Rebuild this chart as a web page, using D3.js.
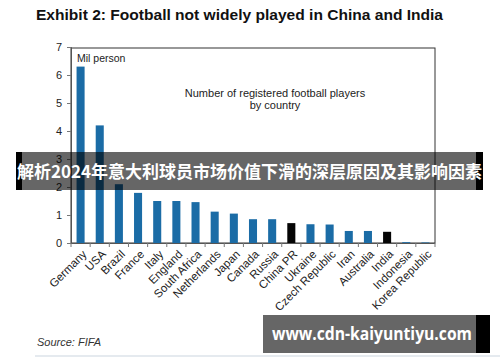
<!DOCTYPE html>
<html><head><meta charset="utf-8">
<script src="https://cdn.jsdelivr.net/npm/d3@7"></script>
<style>
html,body{margin:0;padding:0;background:#fff;}
svg{display:block;font-family:"Liberation Sans",Arial,sans-serif;}
</style></head>
<body><svg id="c" width="500" height="362"></svg>
<script>
const categories = ["Germany","USA","Brazil","France","Italy","England","South Africa","Netherlands","Japan","Canada","Russia","China PR","Ukraine","Czech Republic","Iran","Australia","India","Indonesia","Korea Republic"];
const players = [6.3,4.2,2.1,1.79,1.5,1.5,1.46,1.12,1.05,0.85,0.85,0.71,0.67,0.66,0.43,0.43,0.4,0.03,0.02];
const highlighted = ["China PR","India"];
const yTicks = [0,1,2,3,4,5,6,7];
const title = "Exhibit 2: Football not widely played in China and India";
const unitLabel = "Mil person";
const noteLines = ["Number of registered football players","by country"];
const source = "Source: FIFA";
const bannerText = "解析2024年意大利球员市场价值下滑的深层原因及其影响因素";
const urlText = "www.cdn-kaiyuntiyu.com";

const svg = d3.select("#c");
const L=71, R=435, T=47, B=243;
const x = d3.scaleBand().domain(categories).range([L,R]).paddingInner(0.58).paddingOuter(0.29);
const y = d3.scaleLinear().domain([0,7]).range([B,T]);

// title
svg.append("text").attr("x",36).attr("y",20).attr("font-size",14).attr("font-weight","bold")
  .attr("fill","#111").attr("textLength",407).attr("lengthAdjust","spacingAndGlyphs").text(title);

// frame
svg.append("rect").attr("x",L).attr("y",y(7)+1).attr("width",R-L).attr("height",B-y(7)-1)
  .attr("fill","none").attr("stroke","#333").attr("stroke-width",1);

// bars
svg.append("g").selectAll("rect").data(categories).join("rect")
  .attr("x",d=>x(d)).attr("width",x.bandwidth())
  .attr("y",(d,i)=>y(players[i])).attr("height",(d,i)=>B-y(players[i]))
  .attr("fill",d=>highlighted.includes(d)?"#050505":"#1b6ca6");

// y axis
const ya = svg.append("g").attr("transform",`translate(${L},0)`)
  .call(d3.axisLeft(y).tickValues(yTicks).tickSize(4).tickPadding(5).tickFormat(d3.format("d")));
ya.select(".domain").attr("stroke","#555");
ya.selectAll(".tick line").attr("stroke","#777");
ya.selectAll("text").attr("font-size",11).attr("fill","#222").attr("font-family","Liberation Sans, Arial, sans-serif");

// x axis line & boundary ticks
svg.append("line").attr("x1",L).attr("x2",R).attr("y1",B+0.5).attr("y2",B+0.5).attr("stroke","#555");
svg.append("g").selectAll("line").data(d3.range(categories.length+1)).join("line")
  .attr("x1",i=>L+i*(R-L)/categories.length).attr("x2",i=>L+i*(R-L)/categories.length)
  .attr("y1",B).attr("y2",B+4).attr("stroke","#777");

// x labels
svg.append("g").selectAll("text").data(categories).join("text")
  .attr("transform",d=>`translate(${x(d)+x.bandwidth()/2+4},${B+9}) rotate(-45)`)
  .attr("text-anchor","end").attr("dy","0.35em").attr("font-size",11.5).attr("fill","#222").text(d=>d);

// annotations
svg.append("text").attr("x",77).attr("y",62).attr("font-size",10.5).attr("fill","#222").text(unitLabel);
svg.append("g").selectAll("text").data(noteLines).join("text")
  .attr("x",275).attr("y",(d,i)=>97+i*12).attr("text-anchor","middle").attr("font-size",11).attr("fill","#222").text(d=>d);

// source
svg.append("text").attr("x",37).attr("y",346).attr("font-size",11).attr("font-style","italic").attr("fill","#333").text(source);
svg.append("line").attr("x1",35).attr("x2",500).attr("y1",356).attr("y2",356).attr("stroke","#dde3ea").attr("stroke-width",1.5);

// overlay banner
svg.append("rect").attr("x",16).attr("y",152).attr("width",6).attr("height",38).attr("fill","#000");
svg.append("rect").attr("x",476).attr("y",152).attr("width",7).attr("height",38).attr("fill","#000");
svg.append("rect").attr("x",22).attr("y",152).attr("width",454).attr("height",38).attr("fill","#000").attr("fill-opacity",0.6);
svg.append("text").attr("x",17).attr("y",178).attr("font-size",17.5).attr("font-weight","bold")
  .attr("font-family","Noto Sans CJK SC, sans-serif").attr("fill","#fff")
  .attr("textLength",465).attr("lengthAdjust","spacingAndGlyphs").text(bannerText);

// url banner
svg.append("rect").attr("x",476).attr("y",315).attr("width",14).attr("height",38).attr("fill","#000");
svg.append("rect").attr("x",263).attr("y",315).attr("width",213).attr("height",38).attr("fill","#000").attr("fill-opacity",0.6);
svg.append("text").attr("x",272).attr("y",340).attr("font-size",17).attr("font-weight","bold")
  .attr("font-family","Open Sans, Noto Sans, sans-serif").attr("fill","#fff")
  .attr("textLength",200).attr("lengthAdjust","spacingAndGlyphs").text(urlText);
</script></body></html>
